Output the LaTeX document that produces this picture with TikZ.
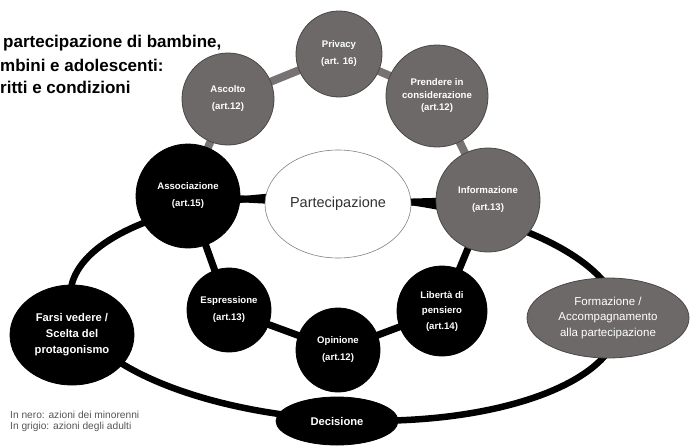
\documentclass[tikz,border=0pt]{standalone}
\usepackage{fontspec}
\setmainfont{Liberation Sans}
\usetikzlibrary{shapes.geometric}
\definecolor{gfill}{RGB}{110,105,105}
\definecolor{gborder}{RGB}{75,71,71}
\definecolor{glink}{RGB}{120,115,115}
\definecolor{ptext}{RGB}{50,50,50}
\definecolor{legtext}{RGB}{85,85,85}
\begin{document}
\begin{tikzpicture}[x=1pt,y=-1pt,
  gnode/.style={circle, fill=gfill, draw=gborder, line width=0.8pt, inner sep=0pt, text=white, align=center, font=\bfseries\fontsize{9.6}{17}\selectfont},
  bnode/.style={circle, fill=black, draw=black, line width=0.8pt, inner sep=0pt, text=white, align=center, font=\bfseries\fontsize{9.6}{17}\selectfont},
  gell/.style={ellipse, fill=gfill, draw=gborder, line width=0.8pt, inner sep=0pt, text=white, align=center, font=\fontsize{11.5}{15.5}\selectfont},
  bell/.style={ellipse, fill=black, draw=black, line width=0.8pt, inner sep=0pt, text=white, align=center, font=\bfseries\fontsize{11.2}{16}\selectfont},
  glink/.style={line width=8pt, draw=glink},
  blink/.style={line width=7pt, draw=black},
  ring/.style={line width=6.5pt, draw=black},
  titletext/.style={anchor=base west, inner sep=0pt, font=\bfseries\fontsize{17}{23}\selectfont},
  legend/.style={anchor=base west, inner sep=0pt, align=left, text=legtext, font=\fontsize{10.2}{10.5}\selectfont}
]
\useasboundingbox (0,0) rectangle (690,447);

% big outer ring
\coordinate (ringc) at (345,308);
\draw[ring, rotate around={-3:(ringc)}] (ringc) ellipse [x radius=275, y radius=112];

% nodes coordinates
\coordinate (pAsc) at (228,99);
\coordinate (pPri) at (339,54);
\coordinate (pPre) at (437,96);
\coordinate (pInf) at (488,200);
\coordinate (pAss) at (188,196);
\coordinate (pEsp) at (229,310);
\coordinate (pOpi) at (338,350);
\coordinate (pLib) at (442,311);
\coordinate (pPar) at (338,204);

% grey links
\draw[glink] (pAss) -- (pAsc) -- (pPri) -- (pPre) -- (pInf);
% black links
\draw[blink] (pAss) -- (pPar) -- (pInf);
\draw[blink] (pAss) -- (pEsp) -- (pOpi) -- (pLib) -- (pInf);

% grey nodes
\node[gnode, minimum size=92] (asc) at (pAsc) {Ascolto\\(art.12)};
\node[gnode, minimum size=86] (pri) at (pPri) {Privacy\\(art. 16)};
\node[gnode, minimum size=102, font=\bfseries\fontsize{9.6}{12.5}\selectfont] (pre) at (pPre) {Prendere in\\considerazione\\(art.12)};
\node[gnode, minimum size=104] (inf) at (pInf) {Informazione\\(art.13)};

% black nodes
\node[bnode, minimum size=104] (ass) at (pAss) {Associazione\\(art.15)};
\node[bnode, minimum size=84] (esp) at (pEsp) {Espressione\\(art.13)};
\node[bnode, minimum size=84] (opi) at (pOpi) {Opinione\\(art.12)};
\node[bnode, minimum size=90, font=\bfseries\fontsize{9.6}{15.5}\selectfont] (lib) at (pLib) {Libertà di\\pensiero\\(art.14)};

% center
\node[ellipse, fill=white, draw=gray, line width=0.6pt, minimum width=146, minimum height=108, inner sep=0pt, text=ptext, font=\fontsize{14.5}{17}\selectfont] (par) at (pPar) {Partecipazione};

% outer ellipses
\node[bell, minimum width=124, minimum height=100] (far) at (72,335) {Farsi vedere /\\Scelta del\\protagonismo};
\node[bell, minimum width=122, minimum height=48] (dec) at (337,421) {Decisione};
\node[gell, minimum width=162, minimum height=80] (for) at (608,318) {Formazione /\\Accompagnamento\\alla partecipazione};

% title (cut at left edge)
\node[titletext] (t1) at (3,47) {partecipazione di bambine,};
\node[titletext] (t2) at (0,71) {mbini e adolescenti:};
\node[titletext] (t3) at (0,93) {ritti e condizioni};

% legend
\node[legend] (leg) at (10,429) {In nero: azioni dei minorenni\\In grigio: azioni degli adulti};
\end{tikzpicture}
\end{document}
